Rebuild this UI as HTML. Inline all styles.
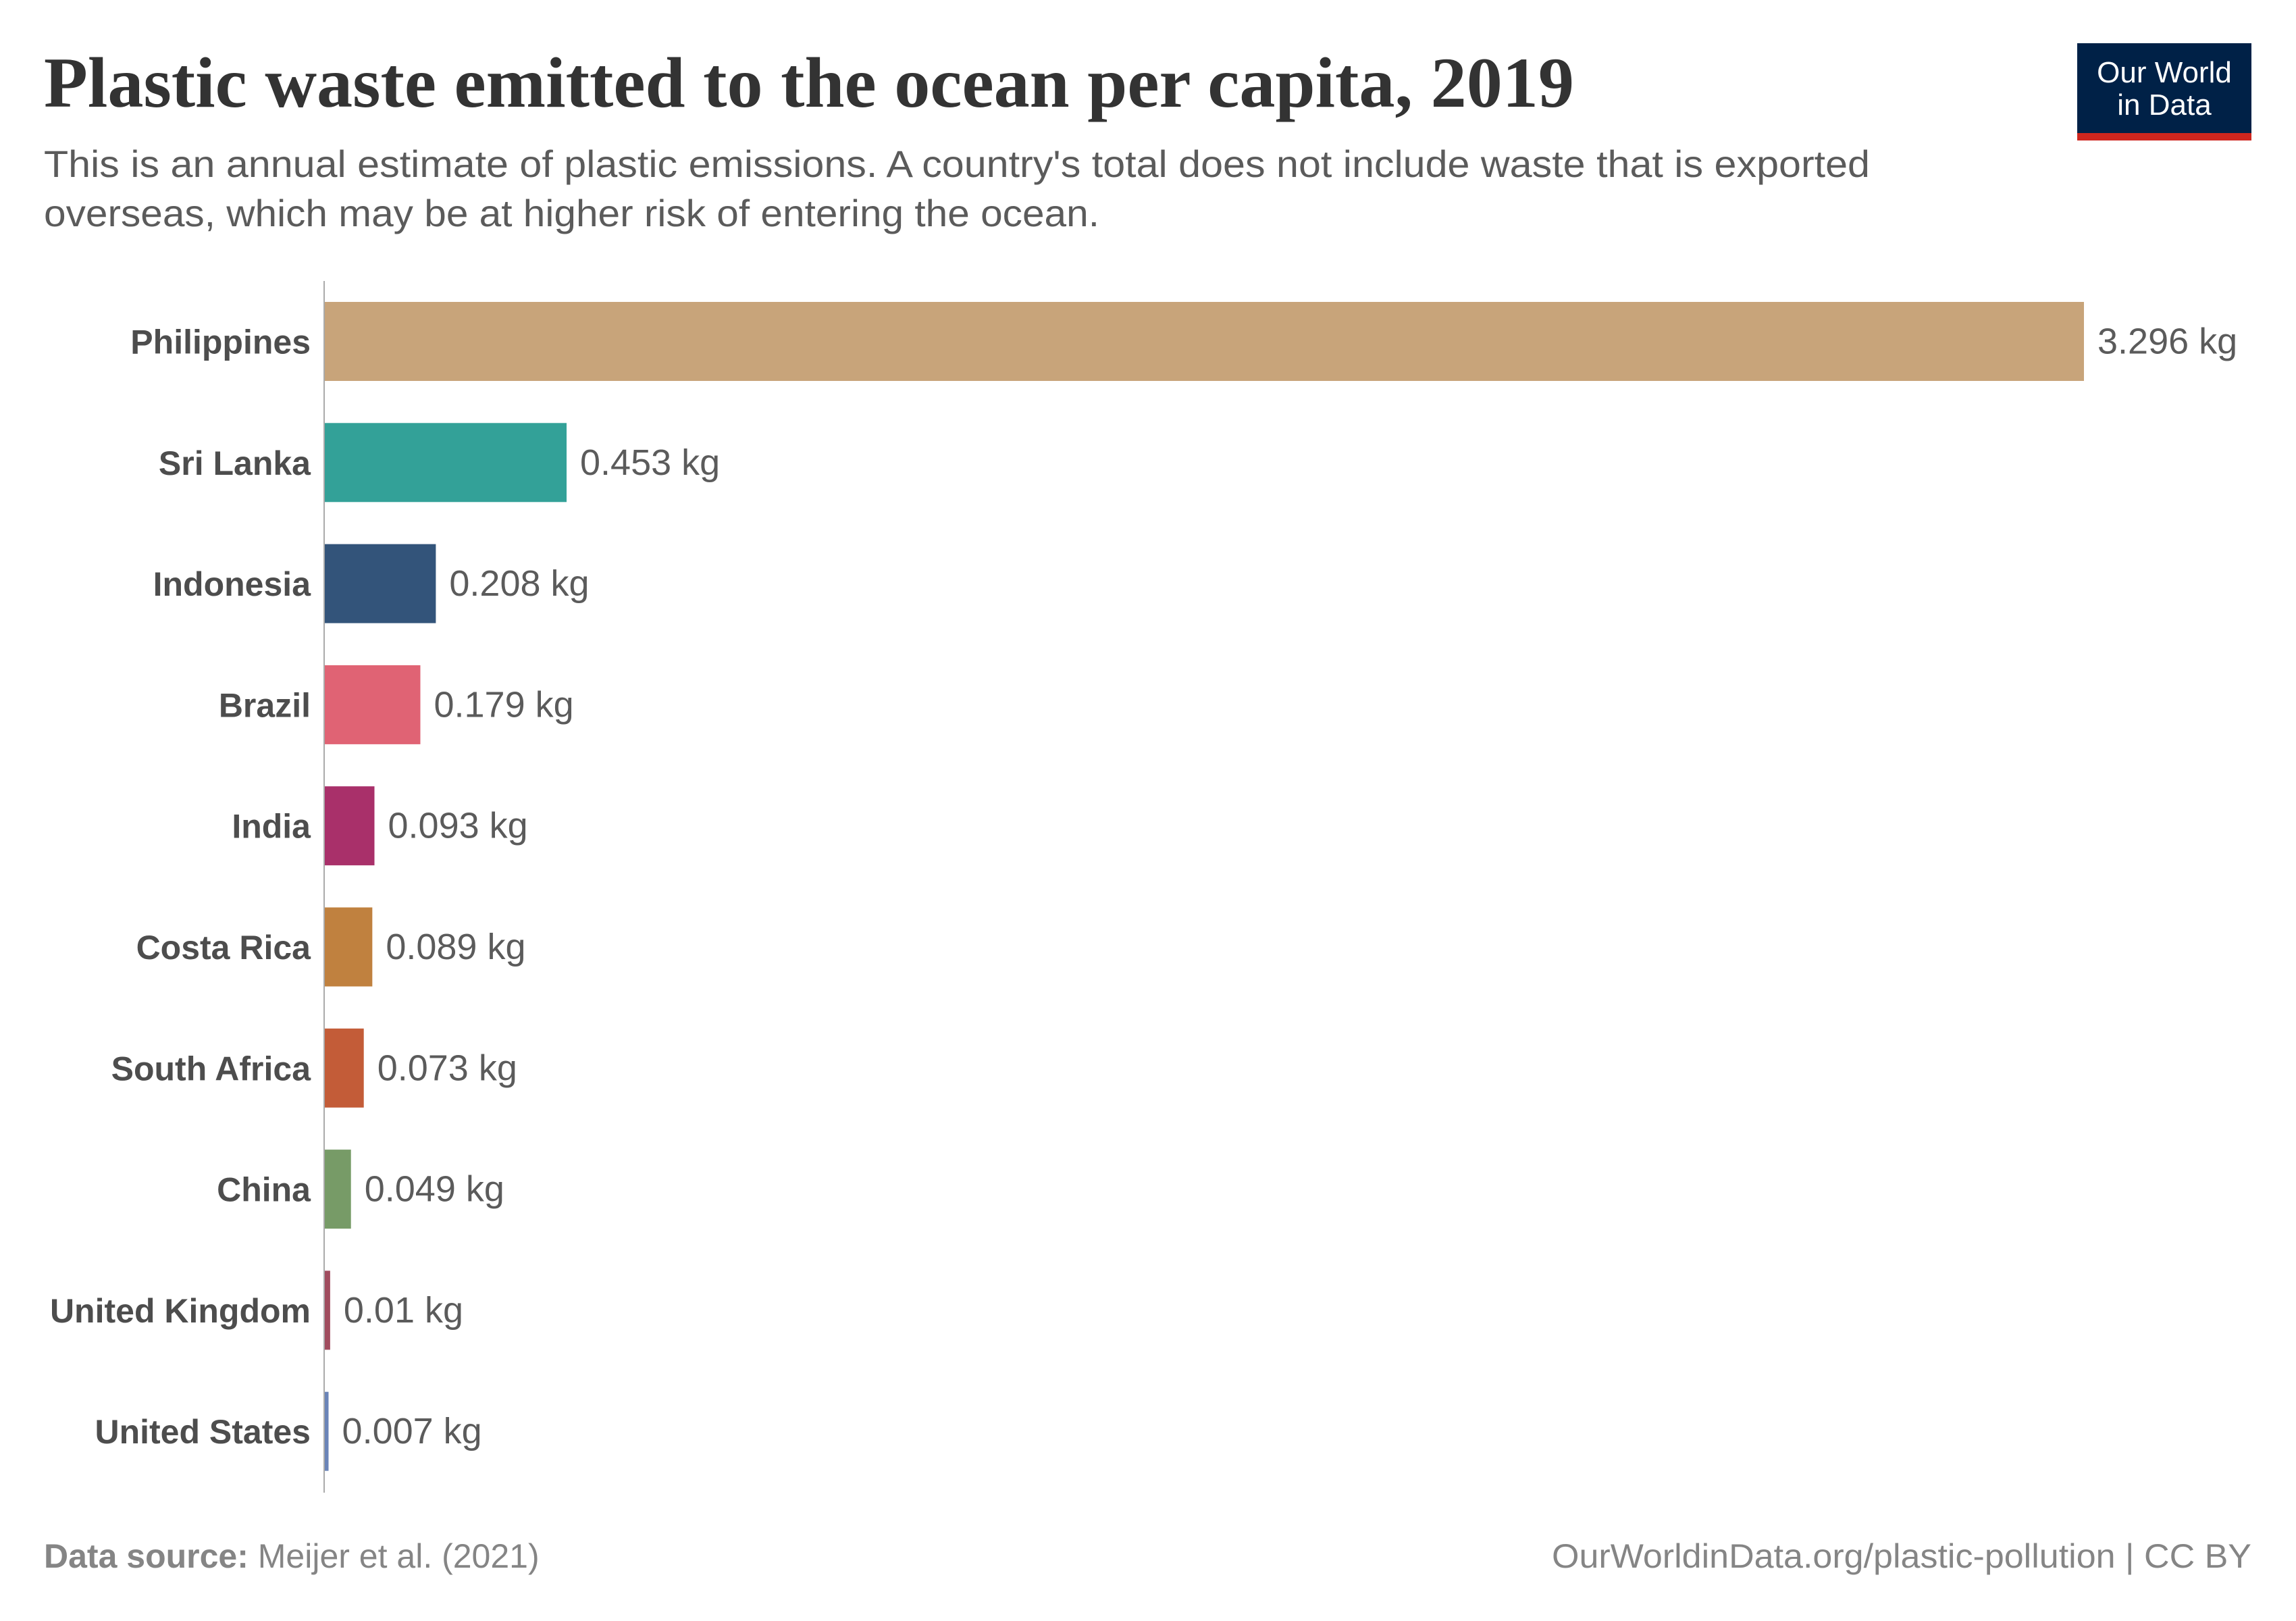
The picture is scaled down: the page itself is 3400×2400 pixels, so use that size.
<!DOCTYPE html>
<html><head><meta charset="utf-8">
<style>
html,body{margin:0;padding:0;background:#fff;}
svg{display:block;}
</style></head>
<body>
<svg id="chart" width="3400" height="2400" viewBox="0 0 3400 2400" xmlns="http://www.w3.org/2000/svg">
  <rect width="3400" height="2400" fill="#fff"/>
  <text x="65" y="158" font-family="'Liberation Serif', serif" font-weight="bold" font-size="106" fill="#333" textLength="2266" lengthAdjust="spacingAndGlyphs">Plastic waste emitted to the ocean per capita, 2019</text>
  <text x="65" y="262" font-family="'Liberation Sans', sans-serif" font-size="56" fill="#5b5b5b" textLength="2704" lengthAdjust="spacingAndGlyphs">This is an annual estimate of plastic emissions. A country's total does not include waste that is exported</text>
  <text x="65" y="335" font-family="'Liberation Sans', sans-serif" font-size="56" fill="#5b5b5b" textLength="1563" lengthAdjust="spacingAndGlyphs">overseas, which may be at higher risk of entering the ocean.</text>
  <g>
    <rect x="3076" y="64" width="258" height="144" fill="#002147"/>
    <rect x="3076" y="197" width="258" height="11" fill="#ce261e"/>
    <text x="3205" y="122" text-anchor="middle" font-family="'Liberation Sans', sans-serif" font-size="44" fill="#fff">Our World</text>
    <text x="3205" y="170" text-anchor="middle" font-family="'Liberation Sans', sans-serif" font-size="44" fill="#fff">in Data</text>
  </g>
  <line x1="480" y1="416" x2="480" y2="2210" stroke="#aaa" stroke-width="2"/>
  <g id="bars"></g>
  <text x="65" y="2321" font-family="'Liberation Sans', sans-serif" font-size="50" fill="#858585"><tspan font-weight="bold">Data source:</tspan> Meijer et al. (2021)</text>
  <text x="2298" y="2321" font-family="'Liberation Sans', sans-serif" font-size="50" fill="#858585" textLength="1036" lengthAdjust="spacingAndGlyphs">OurWorldinData.org/plastic-pollution | CC BY</text>
</svg>
<script>
const countries = ["Philippines","Sri Lanka","Indonesia","Brazil","India","Costa Rica","South Africa","China","United Kingdom","United States"];
const values = [3.296,0.453,0.208,0.179,0.093,0.089,0.073,0.049,0.01,0.007];
const valueLabels = ["3.296 kg","0.453 kg","0.208 kg","0.179 kg","0.093 kg","0.089 kg","0.073 kg","0.049 kg","0.01 kg","0.007 kg"];
const colors = ["#c8a47a","#33a198","#33547a","#e06374","#a9306a","#c0813f","#c35c38","#779b67","#a04c5e","#6a84b8"];

const NS = "http://www.w3.org/2000/svg";
const x0 = 480, xMaxPx = 3085, vMax = Math.max(...values);
const xScale = v => (v / vMax) * (xMaxPx - x0);
const yTop = 447, pitch = 179.3, barH = 117;
const yPos = i => yTop + i * pitch;
const g = document.getElementById("bars");
countries.forEach((c, i) => {
  const y = yPos(i);
  const w = Math.max(xScale(values[i]), 3);
  const r = document.createElementNS(NS, "rect");
  r.setAttribute("x", x0 + 1); r.setAttribute("y", y);
  r.setAttribute("width", w); r.setAttribute("height", barH);
  r.setAttribute("fill", colors[i]);
  
  
  g.appendChild(r);
  const lab = document.createElementNS(NS, "text");
  lab.setAttribute("x", 460); lab.setAttribute("y", y + barH / 2 + 18);
  lab.setAttribute("text-anchor", "end");
  lab.setAttribute("font-family", "'Liberation Sans', sans-serif");
  lab.setAttribute("font-weight", "bold");
  lab.setAttribute("font-size", "50");
  lab.setAttribute("fill", "#4d4d4d");
  lab.textContent = c;
  
  
  g.appendChild(lab);
  const vl = document.createElementNS(NS, "text");
  vl.setAttribute("x", x0 + 1 + w + 20); vl.setAttribute("y", y + barH / 2 + 18);
  vl.setAttribute("font-family", "'Liberation Sans', sans-serif");
  vl.setAttribute("font-size", "54");
  vl.setAttribute("fill", "#5b5b5b");
  vl.textContent = valueLabels[i];
  
  
  g.appendChild(vl);
});
</script>
</body></html>
